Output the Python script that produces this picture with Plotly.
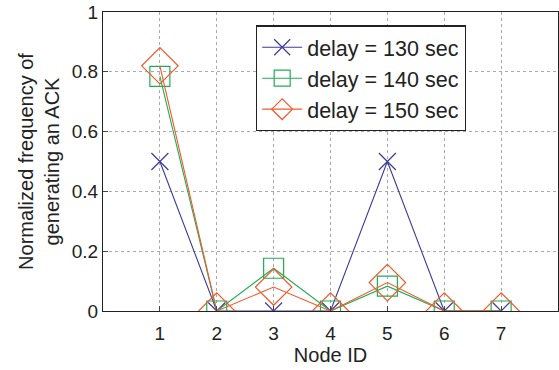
import plotly.graph_objects as go

nodes = [1, 2, 3, 4, 5, 6, 7]
delay130 = [0.5, 0, 0, 0, 0.5, 0, 0]
delay140 = [0.785, 0, 0.143, 0, 0.083, 0, 0]
delay150 = [0.82, 0, 0.08, 0, 0.095, 0, 0]
series_names = ["delay = 130 sec", "delay = 140 sec", "delay = 150 sec"]
colors = ["#3B3B9E", "#22AD55", "#F05A2A"]
symbols = ["x-thin", "square-open", "diamond-open"]
sizes = [17, 20, 28]

fig = go.Figure()
for vals, name, c, s, sz in zip([delay130, delay140, delay150], series_names, colors, symbols, sizes):
    fig.add_trace(go.Scatter(
        x=nodes, y=vals, mode="lines+markers", name=name,
        line=dict(color=c, width=1.1),
        marker=dict(symbol=s, size=sz, color=c, line=dict(color=c, width=1.2)),
    ))

fig.update_layout(
    width=559, height=370,
    margin=dict(l=103, r=1, t=12, b=59),
    paper_bgcolor="white", plot_bgcolor="white",
    font=dict(family="Liberation Sans, Arial, sans-serif", color="#222222", size=19),
    showlegend=True,
    legend=dict(x=0.336, y=0.955, xanchor="left", yanchor="top",
                bordercolor="#222222", borderwidth=1.3, bgcolor="white",
                font=dict(size=21.5), itemwidth=40, tracegroupgap=0),
    xaxis=dict(range=[0, 8], tickvals=nodes, ticks="inside", ticklen=5,
               showline=True, linecolor="#222222", linewidth=1.2, mirror=True,
               showgrid=True, gridcolor="#AAAAAA", griddash="dot", gridwidth=1,
               zeroline=False, title=dict(text="Node ID", font=dict(size=20), standoff=3),
               tickfont=dict(size=19), ticklabelstandoff=5),
    yaxis=dict(range=[0, 1], tickvals=[0, 0.2, 0.4, 0.6, 0.8, 1],
               ticktext=["0", "0.2", "0.4", "0.6", "0.8", "1"],
               ticks="inside", ticklen=5,
               showline=True, linecolor="#222222", linewidth=1.2, mirror=True,
               showgrid=True, gridcolor="#AAAAAA", griddash="dot", gridwidth=1,
               zeroline=False,
               title=dict(text="Normalized frequency of<br>generating an ACK", font=dict(size=20), standoff=6),
               tickfont=dict(size=19)),
)

fig.write_html("out.html")
